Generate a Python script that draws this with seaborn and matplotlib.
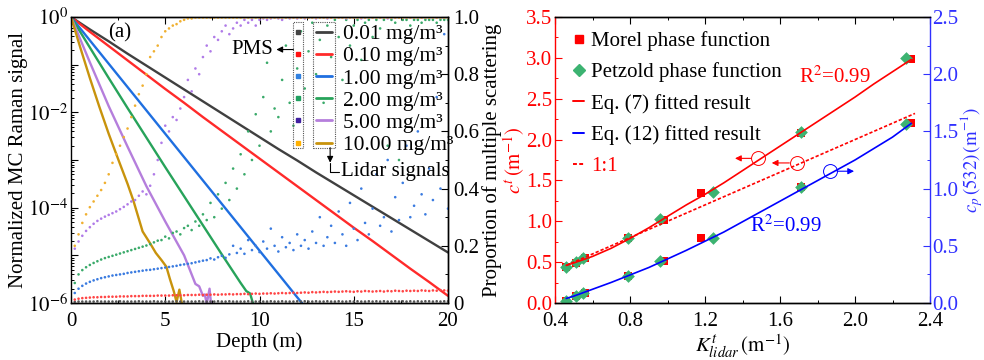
import numpy as np
import pandas as pd
import matplotlib
matplotlib.use("Agg")
import matplotlib.pyplot as plt
import seaborn as sns
from matplotlib.lines import Line2D
from matplotlib.patches import Rectangle
from matplotlib.transforms import IdentityTransform
from matplotlib.ticker import (LogLocator, MultipleLocator, FuncFormatter,
                               NullFormatter)

# ---------------- data: panel (a) ----------------
conc_labels = ["0.01 mg/m³", "0.10 mg/m³", "1.00 mg/m³",
               "2.00 mg/m³", "5.00 mg/m³", "10.00 mg/m³"]

# lidar signals, log10(normalized signal) vs depth (m)
depth_c001 = [0, 1, 2, 3, 4, 5, 6, 7, 8, 9, 10, 11, 12, 13, 14, 15, 16, 17, 18, 19, 20]
log_c001 = [0, -0.26, -0.51, -0.77, -1.02, -1.27, -1.52, -1.77, -2.02, -2.27, -2.52,
            -2.77, -3.01, -3.26, -3.50, -3.74, -3.98, -4.22, -4.46, -4.70, -4.94]
depth_c010 = [0, 1, 2, 3, 4, 5, 6, 7, 8, 9, 10, 11, 12, 13, 14, 15, 16, 17, 18, 19, 20]
log_c010 = [0, -0.31, -0.61, -0.91, -1.21, -1.51, -1.80, -2.10, -2.39, -2.68, -2.97,
            -3.26, -3.55, -3.84, -4.13, -4.42, -4.70, -4.99, -5.28, -5.56, -5.85]
depth_c100 = [0, 1, 2, 3, 4, 5, 6, 7, 8, 9, 10, 11, 12, 12.25, 12.4]
log_c100 = [0, -0.49, -0.98, -1.47, -1.96, -2.45, -2.94, -3.43, -3.92, -4.41, -4.90,
            -5.39, -5.88, -6.0, -6.1]
depth_c200 = [0, 1, 2, 3, 4, 5, 6, 7, 8, 9, 9.3, 9.5, 9.65, 9.8]
log_c200 = [0, -0.64, -1.28, -1.91, -2.53, -3.15, -3.76, -4.37, -4.98, -5.58,
            -5.75, -5.80, -6.0, -6.1]
depth_c500 = [0, 1, 2, 3, 4, 5, 6, 6.6, 6.8, 7.0, 7.1, 7.2, 7.35, 7.45]
log_c500 = [0, -0.95, -1.87, -2.72, -3.55, -4.29, -5.0, -5.6, -5.65, -5.85, -5.82,
            -6.02, -5.70, -6.1]
depth_c1000 = [0, 0.5, 1, 1.5, 2, 2.5, 3, 3.3, 3.8, 4.2, 4.5, 4.8, 5.06, 5.25,
               5.45, 5.6, 5.75, 5.9]
log_c1000 = [0, -0.65, -1.28, -1.88, -2.45, -2.98, -3.5, -3.84, -4.5, -4.75, -4.95,
             -5.1, -5.24, -5.5, -5.75, -5.98, -5.72, -6.05]

# proportion of multiple scattering (PMS), every 0.2 m from 0.2 to 20 m
depth_pms = np.round(np.arange(1, 101) * 0.2, 1)
pms_c001 = [0.004, 0.005, 0.005, 0.005, 0.005, 0.005, 0.006, 0.005, 0.005, 0.005,
            0.005, 0.005, 0.006, 0.005, 0.005, 0.005, 0.005, 0.006, 0.005, 0.005,
            0.005, 0.006, 0.005, 0.005, 0.005, 0.005, 0.005, 0.006, 0.005, 0.005,
            0.005, 0.005, 0.005, 0.006, 0.005, 0.005, 0.005, 0.005, 0.006, 0.005,
            0.005, 0.006, 0.005, 0.005, 0.005, 0.005, 0.006, 0.005, 0.005, 0.005,
            0.005, 0.005, 0.006, 0.005, 0.005, 0.006, 0.005, 0.005, 0.005, 0.006,
            0.005, 0.006, 0.005, 0.005, 0.006, 0.005, 0.005, 0.006, 0.005, 0.005,
            0.006, 0.005, 0.005, 0.006, 0.005, 0.006, 0.005, 0.005, 0.006, 0.005,
            0.006, 0.005, 0.006, 0.005, 0.005, 0.006, 0.005, 0.006, 0.005, 0.006,
            0.005, 0.006, 0.005, 0.006, 0.006, 0.005, 0.006, 0.005, 0.006, 0.006]
pms_c010 = [0.012, 0.015, 0.017, 0.018, 0.019, 0.020, 0.020, 0.021, 0.021, 0.022,
            0.022, 0.022, 0.023, 0.023, 0.023, 0.024, 0.024, 0.024, 0.025, 0.025,
            0.025, 0.025, 0.026, 0.026, 0.026, 0.026, 0.027, 0.027, 0.027, 0.027,
            0.028, 0.028, 0.028, 0.029, 0.028, 0.029, 0.029, 0.030, 0.029, 0.030,
            0.030, 0.031, 0.030, 0.031, 0.031, 0.032, 0.031, 0.032, 0.033, 0.032,
            0.033, 0.033, 0.034, 0.033, 0.034, 0.035, 0.034, 0.035, 0.036, 0.035,
            0.036, 0.037, 0.036, 0.038, 0.037, 0.038, 0.039, 0.038, 0.039, 0.040,
            0.039, 0.040, 0.041, 0.040, 0.039, 0.041, 0.040, 0.042, 0.041, 0.040,
            0.041, 0.042, 0.040, 0.042, 0.041, 0.043, 0.042, 0.041, 0.043, 0.042,
            0.043, 0.042, 0.044, 0.043, 0.042, 0.044, 0.043, 0.045, 0.044, 0.043]
pms_c100 = [0.035, 0.050, 0.060, 0.068, 0.074, 0.079, 0.083, 0.087, 0.090, 0.093,
            0.096, 0.098, 0.100, 0.102, 0.105, 0.107, 0.109, 0.111, 0.113, 0.115,
            0.116, 0.118, 0.120, 0.122, 0.124, 0.126, 0.128, 0.130, 0.133, 0.135,
            0.137, 0.139, 0.142, 0.145, 0.148, 0.150, 0.156, 0.152, 0.160, 0.165,
            0.158, 0.170, 0.200, 0.175, 0.190, 0.172, 0.220, 0.185, 0.200, 0.178,
            0.215, 0.190, 0.260, 0.200, 0.180, 0.230, 0.195, 0.210, 0.185, 0.240,
            0.200, 0.220, 0.190, 0.250, 0.210, 0.300, 0.200, 0.230, 0.270, 0.210,
            0.320, 0.240, 0.200, 0.350, 0.260, 0.220, 0.400, 0.280, 0.240, 0.330,
            0.450, 0.270, 0.300, 0.500, 0.250, 0.370, 0.290, 0.420, 0.550, 0.300,
            0.340, 0.600, 0.380, 0.310, 0.470, 0.360, 0.720, 0.400, 0.940, 0.330]
pms_c200 = [0.070, 0.100, 0.115, 0.125, 0.133, 0.140, 0.146, 0.152, 0.157, 0.161,
            0.165, 0.169, 0.173, 0.177, 0.181, 0.185, 0.189, 0.193, 0.197, 0.201,
            0.206, 0.212, 0.218, 0.220, 0.232, 0.226, 0.245, 0.250, 0.240, 0.262,
            0.270, 0.255, 0.285, 0.270, 0.310, 0.290, 0.350, 0.300, 0.380, 0.330,
            0.420, 0.360, 0.470, 0.400, 0.520, 0.450, 0.600, 0.500, 0.660, 0.550,
            0.720, 0.840, 0.600, 0.680, 0.650, 0.780, 0.900, 0.700, 0.620, 0.820,
            0.950, 0.750, 0.880, 0.980, 0.800, 0.920, 0.700, 0.970, 0.860, 0.990,
            0.930, 0.780, 0.990, 0.900, 0.970, 0.990, 0.850, 0.980, 0.990, 0.930,
            0.990, 0.960, 0.990, 0.550, 0.990, 0.980, 0.500, 0.990, 0.990, 0.970,
            0.990, 0.990, 0.980, 0.990, 0.990, 0.990, 0.980, 0.990, 0.990, 0.990]
pms_c500 = [0.190, 0.215, 0.235, 0.252, 0.265, 0.277, 0.287, 0.295, 0.302, 0.308,
            0.314, 0.320, 0.328, 0.336, 0.345, 0.355, 0.360, 0.375, 0.390, 0.380,
            0.410, 0.450, 0.500, 0.560, 0.620, 0.600, 0.650, 0.640, 0.680, 0.720,
            0.780, 0.740, 0.820, 0.800, 0.860, 0.900, 0.880, 0.930, 0.920, 0.950,
            0.970, 0.940, 0.960, 0.980, 0.970, 0.990, 0.980, 0.990, 0.970, 0.990,
            0.995, 0.990, 0.995, 0.998, 0.995, 0.990, 0.998, 0.995, 0.998, 0.995,
            0.998, 0.995, 0.998, 0.998, 0.995, 0.998, 0.998, 0.995, 0.998, 0.998,
            0.998, 0.998, 0.995, 0.998, 0.998, 0.998, 0.995, 0.998, 0.998, 0.998,
            0.998, 0.998, 0.998, 0.995, 0.998, 0.998, 0.998, 0.998, 0.998, 0.998,
            0.998, 0.998, 0.998, 0.998, 0.998, 0.998, 0.998, 0.998, 0.998, 0.998]
pms_c1000 = [0.200, 0.240, 0.280, 0.310, 0.335, 0.355, 0.375, 0.395, 0.420, 0.450,
             0.490, 0.520, 0.550, 0.580, 0.610, 0.650, 0.690, 0.730, 0.760, 0.800,
             0.860, 0.880, 0.900, 0.930, 0.950, 0.960, 0.970, 0.975, 0.985, 0.990,
             0.995, 0.995, 0.998, 0.998, 0.998, 0.998, 0.998, 0.998, 0.998, 0.998,
             0.998, 0.998, 0.998, 0.998, 0.998, 0.998, 0.998, 0.998, 0.998, 0.998,
             0.998, 0.998, 0.998, 0.998, 0.998, 0.998, 0.998, 0.998, 0.998, 0.998,
             0.998, 0.998, 0.998, 0.998, 0.998, 0.998, 0.998, 0.998, 0.998, 0.998,
             0.998, 0.998, 0.998, 0.998, 0.998, 0.998, 0.998, 0.998, 0.998, 0.998,
             0.998, 0.998, 0.998, 0.998, 0.998, 0.998, 0.998, 0.998, 0.998, 0.998,
             0.998, 0.998, 0.998, 0.998, 0.998, 0.998, 0.998, 0.998, 0.998, 0.998]

# ---------------- data: panel (b) ----------------
K_morel = [0.46, 0.51, 0.56, 0.79, 0.98, 1.18, 1.71, 2.30]
c_morel = [0.44, 0.49, 0.55, 0.80, 1.01, 1.35, 2.08, 2.99]
cp_morel = [0.02, 0.06, 0.085, 0.24, 0.365, 0.57, 1.01, 1.57]
K_petzold = [0.46, 0.51, 0.55, 0.79, 0.96, 1.24, 1.71, 2.27]
c_petzold = [0.44, 0.50, 0.55, 0.80, 1.03, 1.36, 2.09, 3.00]
cp_petzold = [0.02, 0.06, 0.085, 0.24, 0.37, 0.57, 1.01, 1.565]
K_fit = [0.46, 0.5, 0.6, 0.7, 0.8, 0.9, 1.0, 1.1, 1.2, 1.3, 1.4, 1.5, 1.6, 1.7,
         1.8, 1.9, 2.0, 2.1, 2.2, 2.3]
c_fit = [0.46, 0.49, 0.57, 0.67, 0.79, 0.92, 1.06, 1.20, 1.33, 1.47, 1.62, 1.77,
         1.92, 2.07, 2.22, 2.37, 2.52, 2.68, 2.83, 2.98]
cp_fit = [0.04, 0.06, 0.12, 0.18, 0.245, 0.31, 0.385, 0.46, 0.54, 0.62, 0.71, 0.80,
          0.89, 0.98, 1.07, 1.16, 1.25, 1.35, 1.45, 1.57]
K_one = [0.46, 2.32]
c_one = [0.46, 2.32]

# ---------------- style ----------------
line_colors = ["#404040", "#ff2a2a", "#1f6fe0", "#27a35a", "#b57edc", "#c8930c"]
dot_colors = ["#555555", "#ff4545", "#3a7be0", "#3aaa6a", "#b07be8", "#f0b030"]
key_colors = ["#444444", "#ff1010", "#3080e0", "#20a060", "#4020a0", "#ffb000"]
RED = "#ff0000"
BLUE = "#0000ff"
RBLUE = "#3030ff"
GREEN = "#3cb371"

sns.set_theme(style="ticks")
plt.rcParams.update({
    "font.family": ["Liberation Serif", "DejaVu Serif"],
    "mathtext.fontset": "stix",
    "font.size": 15,
    "axes.edgecolor": "black", "axes.labelcolor": "black", "text.color": "black",
    "xtick.color": "black", "ytick.color": "black",
    "axes.linewidth": 1.0,
    "xtick.direction": "in", "ytick.direction": "in",
    "xtick.major.size": 5, "ytick.major.size": 5,
    "xtick.minor.size": 2.5, "ytick.minor.size": 2.5,
    "xtick.major.width": 0.8, "ytick.major.width": 0.8,
    "xtick.minor.width": 0.7, "ytick.minor.width": 0.7,
    "xtick.labelsize": 15, "ytick.labelsize": 15,
    "xtick.major.pad": 6.5,
    "axes.labelsize": 15,
})

W, H = 984, 360
fig = plt.figure(figsize=(W / 100, H / 100), dpi=100)


def rect(x0, y0, x1, y1):
    return [x0 / W, 1 - y1 / H, (x1 - x0) / W, (y1 - y0) / H]


# ================= panel (a) =================
ax1 = fig.add_axes(rect(71, 17, 448, 303))
ax1.set_yscale("log")
rows = []
for lab, d, v in zip(conc_labels,
                     [depth_c001, depth_c010, depth_c100, depth_c200, depth_c500, depth_c1000],
                     [log_c001, log_c010, log_c100, log_c200, log_c500, log_c1000]):
    for di, vi in zip(d, v):
        rows.append((lab, di, 10.0 ** vi))
df_lines = pd.DataFrame(rows, columns=["conc", "depth", "signal"])
sns.lineplot(data=df_lines, x="depth", y="signal", hue="conc", hue_order=conc_labels,
             palette=line_colors, estimator=None, sort=False, linewidth=1.7,
             legend=False, ax=ax1)
ax1.set_xlim(0, 20)
ax1.set_ylim(1e-6, 1)

ax1b = ax1.twinx()
prow = []
for lab, v in zip(conc_labels, [pms_c001, pms_c010, pms_c100, pms_c200, pms_c500, pms_c1000]):
    for di, vi in zip(depth_pms, v):
        prow.append((lab, di, vi))
df_pms = pd.DataFrame(prow, columns=["conc", "depth", "pms"])
sns.scatterplot(data=df_pms, x="depth", y="pms", hue="conc", hue_order=conc_labels,
                palette=dot_colors, s=3.5, linewidth=0, legend=False, ax=ax1b)
ax1b.set_ylim(0, 1)
ax1b.set_xlim(0, 20)

ax1.yaxis.set_major_locator(LogLocator(base=10, numticks=12))
ax1.yaxis.set_major_formatter(FuncFormatter(
    lambda v, p: (r"$10^{%d}$" % int(round(np.log10(v)))) if int(round(np.log10(v))) % 2 == 0 else ""))
ax1.yaxis.set_minor_locator(LogLocator(base=10, subs=np.arange(2, 10), numticks=100))
ax1.yaxis.set_minor_formatter(NullFormatter())
ax1.xaxis.set_major_locator(MultipleLocator(5))
ax1.xaxis.set_minor_locator(MultipleLocator(2.5))
ax1.tick_params(which="both", top=True, right=False)
ax1.tick_params(axis="y", pad=2)
ax1b.yaxis.set_major_locator(MultipleLocator(0.2))
ax1b.yaxis.set_minor_locator(MultipleLocator(0.1))
ax1b.yaxis.set_major_formatter(FuncFormatter(lambda v, p: "0" if abs(v) < 1e-9 else "%.1f" % v))
ax1b.tick_params(axis="y", which="both", right=True, left=False, pad=4)
ax1b.spines["left"].set_visible(False)

ax1.set_xlabel("Depth (m)", labelpad=1)
ax1.set_ylabel("Normalized MC Raman signal")
ax1.yaxis.set_label_coords((28 - 71) / 377.0, 0.5)
ax1b.set_ylabel("Proportion of multiple scattering")
ax1b.yaxis.set_label_coords((482 - 71) / 377.0, 0.5)
ax1.text(2.6, 10 ** -0.34, "(a)", ha="center", va="center", fontsize=15)

# legend: PMS keys (markers) and lidar keys (lines), aligned rows
leg_kw = dict(loc="upper left", frameon=False, fontsize=15.5, borderpad=0,
              borderaxespad=0, labelspacing=0.1, handleheight=0.7)
hA = [Line2D([], [], ls="", marker="s", ms=3.2, color=c) for c in key_colors]
hB = [Line2D([], [], lw=2.0, color=c) for c in line_colors]
x_frac = lambda px: (px - 71) / 377.0
y_frac = lambda py: (303 - py) / 286.0
legB = ax1b.legend(hB, conc_labels, bbox_to_anchor=(x_frac(316), y_frac(24)),
                   handlelength=0.75, handletextpad=0.5, **leg_kw)
ax1b.add_artist(legB)
legA = ax1b.legend(hA, conc_labels, bbox_to_anchor=(x_frac(293), y_frac(24)),
                   handlelength=0.5, handletextpad=0.5, **leg_kw)
for t in legA.get_texts():
    t.set_color("none")
    t.set_visible(False)

# ================= panel (b) =================
ax3 = fig.add_axes(rect(555, 17, 930, 303))
sns.lineplot(x=K_fit, y=c_fit, color=RED, linewidth=1.2, ax=ax3, estimator=None, sort=False)
sns.lineplot(x=K_one, y=c_one, color=RED, linewidth=1.2, linestyle=(0, (2, 1.2)),
             ax=ax3, estimator=None, sort=False)
sns.scatterplot(x=K_morel, y=c_morel, marker="s", color=RED, s=40, linewidth=0, ax=ax3)
sns.scatterplot(x=K_petzold, y=c_petzold, marker="D", color=GREEN, s=42, linewidth=0, ax=ax3)
ax3.set_xlim(0.4, 2.4)
ax3.set_ylim(0, 3.5)

ax4 = ax3.twinx()
sns.lineplot(x=K_fit, y=cp_fit, color=BLUE, linewidth=1.2, ax=ax4, estimator=None, sort=False)
sns.scatterplot(x=K_morel, y=cp_morel, marker="s", color=RED, s=40, linewidth=0, ax=ax4)
sns.scatterplot(x=K_petzold, y=cp_petzold, marker="D", color=GREEN, s=42, linewidth=0, ax=ax4)
ax4.set_ylim(0, 2.5)
ax4.set_xlim(0.4, 2.4)

ax3.xaxis.set_major_locator(MultipleLocator(0.4))
ax3.xaxis.set_minor_locator(MultipleLocator(0.2))
ax3.xaxis.set_major_formatter(FuncFormatter(lambda v, p: "%.1f" % v))
ax3.yaxis.set_major_locator(MultipleLocator(0.5))
ax3.yaxis.set_minor_locator(MultipleLocator(0.25))
ax3.yaxis.set_major_formatter(FuncFormatter(lambda v, p: "%.1f" % v))
ax4.yaxis.set_major_locator(MultipleLocator(0.5))
ax4.yaxis.set_minor_locator(MultipleLocator(0.25))
ax4.yaxis.set_major_formatter(FuncFormatter(lambda v, p: "%.1f" % v))
ax3.tick_params(which="both", top=True, right=False)
ax3.tick_params(axis="y", which="both", colors=RED, pad=2)
ax4.tick_params(axis="y", which="both", colors=RBLUE, right=True, left=False, pad=1.5)
ax3.spines["left"].set_color(RED)
ax3.spines["right"].set_visible(False)
ax4.spines["left"].set_visible(False)
ax4.spines["right"].set_color(RBLUE)

ax3.set_xlabel(r"$K^t_{lidar}\,(\mathrm{m}^{-1})$", labelpad=1)
ax3.set_ylabel(r"$c^t\,(\mathrm{m}^{-1})$", color=RED)
ax3.yaxis.set_label_coords((527 - 555) / 375.0, 0.5)
ax4.set_ylabel(r"$c_p\,(532)\,(\mathrm{m}^{-1})$", color=RBLUE, fontsize=13.5)
ax4.yaxis.set_label_coords((958 - 555) / 375.0, 0.5)

# annotations
ax3.plot([1.485], [1.77], marker="o", ms=10, mfc="none", mec=RED, mew=0.7, ls="")
ax3.annotate("", xy=(1.36, 1.77), xytext=(1.445, 1.77),
             arrowprops=dict(arrowstyle="-|>", color=RED, lw=0.8, mutation_scale=9,
                             shrinkA=0, shrinkB=0))
ax3.plot([1.69], [1.714], marker="o", ms=10, mfc="none", mec=RED, mew=0.7, ls="")
ax3.annotate("", xy=(1.556, 1.714), xytext=(1.65, 1.714),
             arrowprops=dict(arrowstyle="-|>", color=RED, lw=0.8, mutation_scale=9,
                             shrinkA=0, shrinkB=0))
ax4.plot([1.867], [1.152], marker="o", ms=10, mfc="none", mec=BLUE, mew=0.7, ls="")
ax4.annotate("", xy=(1.995, 1.152), xytext=(1.905, 1.152),
             arrowprops=dict(arrowstyle="-|>", color=BLUE, lw=0.8, mutation_scale=9,
                             shrinkA=0, shrinkB=0))
ax3.text(1.893, 2.77, r"R$^2$=0.99", color=RED, ha="center", va="center", fontsize=15)
ax4.text(1.632, 0.67, r"R$^2$=0.99", color=BLUE, ha="center", va="center", fontsize=15)

hR = [Line2D([], [], ls="", marker="s", ms=6, color=RED),
      Line2D([], [], ls="", marker="D", ms=6.5, color=GREEN),
      Line2D([], [], lw=1.4, color=RED),
      Line2D([], [], lw=1.4, color=BLUE),
      Line2D([], [], lw=1.4, color=RED, ls=(0, (2, 1.2)))]
labR = ["Morel phase function", "Petzold phase function", "Eq. (7) fitted result",
        "Eq. (12) fitted result", "1:1"]
legR = ax4.legend(hR, labR, loc="upper left", frameon=False, fontsize=15, borderpad=0,
                  borderaxespad=0, labelspacing=0.55, handlelength=0.55, handletextpad=0.3,
                  bbox_to_anchor=((573 - 555) / 375.0, (303 - 31) / 286.0))
legR.get_texts()[4].set_color(RED)

# ---------- dotted key boxes and pointer arrows for panel (a) ----------
fig.canvas.draw()


def handle_pts(leg):
    pts = []
    for h in leg.legend_handles:
        xy = np.column_stack([h.get_xdata(), h.get_ydata()])
        pts.append(h.get_transform().transform(xy))
    return np.vstack(pts)


pA = handle_pts(legA)
pB = handle_pts(legB)
ytop = pA[:, 1].max() + 10
ybot = pA[:, 1].min() - 5
cxA = pA[:, 0].mean()
boxA = (cxA - 5, ybot, 10, ytop - ybot)
boxB = (pB[:, 0].min() - 3, ybot, pB[:, 0].max() - pB[:, 0].min() + 6, ytop - ybot)
for b in (boxA, boxB):
    fig.add_artist(Rectangle((b[0], b[1]), b[2], b[3], transform=IdentityTransform(),
                             fill=False, ec="#555555", lw=0.8, ls=(0, (1, 1))))

# PMS pointer
y_pms = ytop - 28
fig.add_artist(matplotlib.text.Annotation(
    "", xy=(boxA[0] - 17, y_pms), xytext=(boxA[0], y_pms), xycoords="figure pixels",
    arrowprops=dict(arrowstyle="-|>", color="black", lw=0.8, mutation_scale=9,
                    shrinkA=0, shrinkB=0)))
fig.text(boxA[0] - 20, y_pms, "PMS", ha="right", va="center", fontsize=15,
         transform=IdentityTransform())

# Lidar pointer
xv = boxB[0] + boxB[2] - 5
fig.add_artist(matplotlib.text.Annotation(
    "", xy=(xv, ybot - 15), xytext=(xv, ybot), xycoords="figure pixels",
    arrowprops=dict(arrowstyle="-|>", color="black", lw=0.8, mutation_scale=9,
                    shrinkA=0, shrinkB=0)))
fig.add_artist(Line2D([xv, xv, xv + 9], [ybot - 15, ybot - 24, ybot - 24],
                      transform=IdentityTransform(), color="black", lw=0.8))
fig.text(xv + 11, ybot - 24, "Lidar signals", ha="left", va="center", fontsize=15,
         transform=IdentityTransform())

fig.savefig("out.png", dpi=100)
